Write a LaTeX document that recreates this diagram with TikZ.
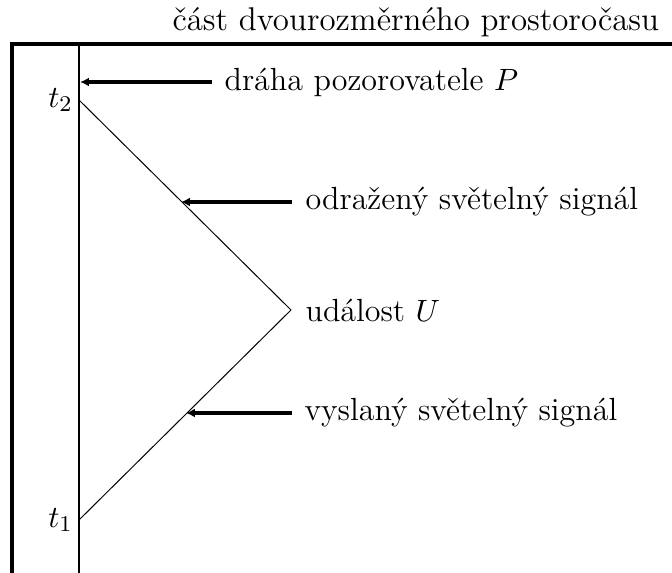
\documentclass[tikz,border=0pt]{standalone}
\usepackage{amsmath,amssymb}
\usepackage{tikz}
\usetikzlibrary{positioning}
\usetikzlibrary{calc}
\usetikzlibrary{arrows.meta}

\begin{document}
\begin{tikzpicture}[
    every node/.style={font=\fontsize{11.4}{13.5}\selectfont},
    frame/.style={line width=1.4pt},
    worldline/.style={line width=0.75pt},
    signal/.style={line width=0.35pt},
    pointer/.style={{Latex[length=1.1mm,width=1.1mm]}-, line width=1.1pt},
    label/.style={anchor=west, inner sep=0pt}
]
\useasboundingbox (0,0) rectangle (8.4,7.1625);

% Spacetime region (frame)
\draw[frame] (0.15,-0.1) -- (0.15,6.6125) -- (8.6,6.6125);
\node[label, font=\fontsize{11.7}{14}\selectfont] (title) at (2.15,6.8875) {část dvourozměrného prostoročasu};

% Observer world line and events
\coordinate (bottom) at (0.9875,-0.1);
\coordinate (top) at (0.9875,6.6125);
\coordinate (t1) at (0.9875,0.6625);
\coordinate (t2) at (0.9875,5.9125);
\coordinate (U) at (3.6375,3.2875);
\draw[worldline] (bottom) -- (top);
\node[anchor=east, inner sep=2pt] (t1label) at (t1) {$t_1$};
\node[anchor=east, inner sep=2pt] (t2label) at (t2) {$t_2$};

% Light signals
\draw[signal] (t1) -- (U) -- (t2);
\node[label] (Ulabel) at (3.8125,3.2875) {událost $U$};

% Labels with pointers
\node[label] (obs) at (2.8,6.1375) {dráha pozorovatele $P$};
\coordinate (obsend) at (1.0,6.1375);
\draw[pointer] (obsend) -- ++(1.65,0);

\node[label] (refl) at (3.8125,4.6375) {odražený světelný signál};
\coordinate (reflend) at (2.2625,4.6375);
\draw[pointer] (reflend) -- ++(1.3875,0);

\node[label] (emit) at (3.8,2.0) {vyslaný světelný signál};
\coordinate (emitend) at (2.325,2.0);
\draw[pointer] (emitend) -- ++(1.325,0);

\end{tikzpicture}
\end{document}
